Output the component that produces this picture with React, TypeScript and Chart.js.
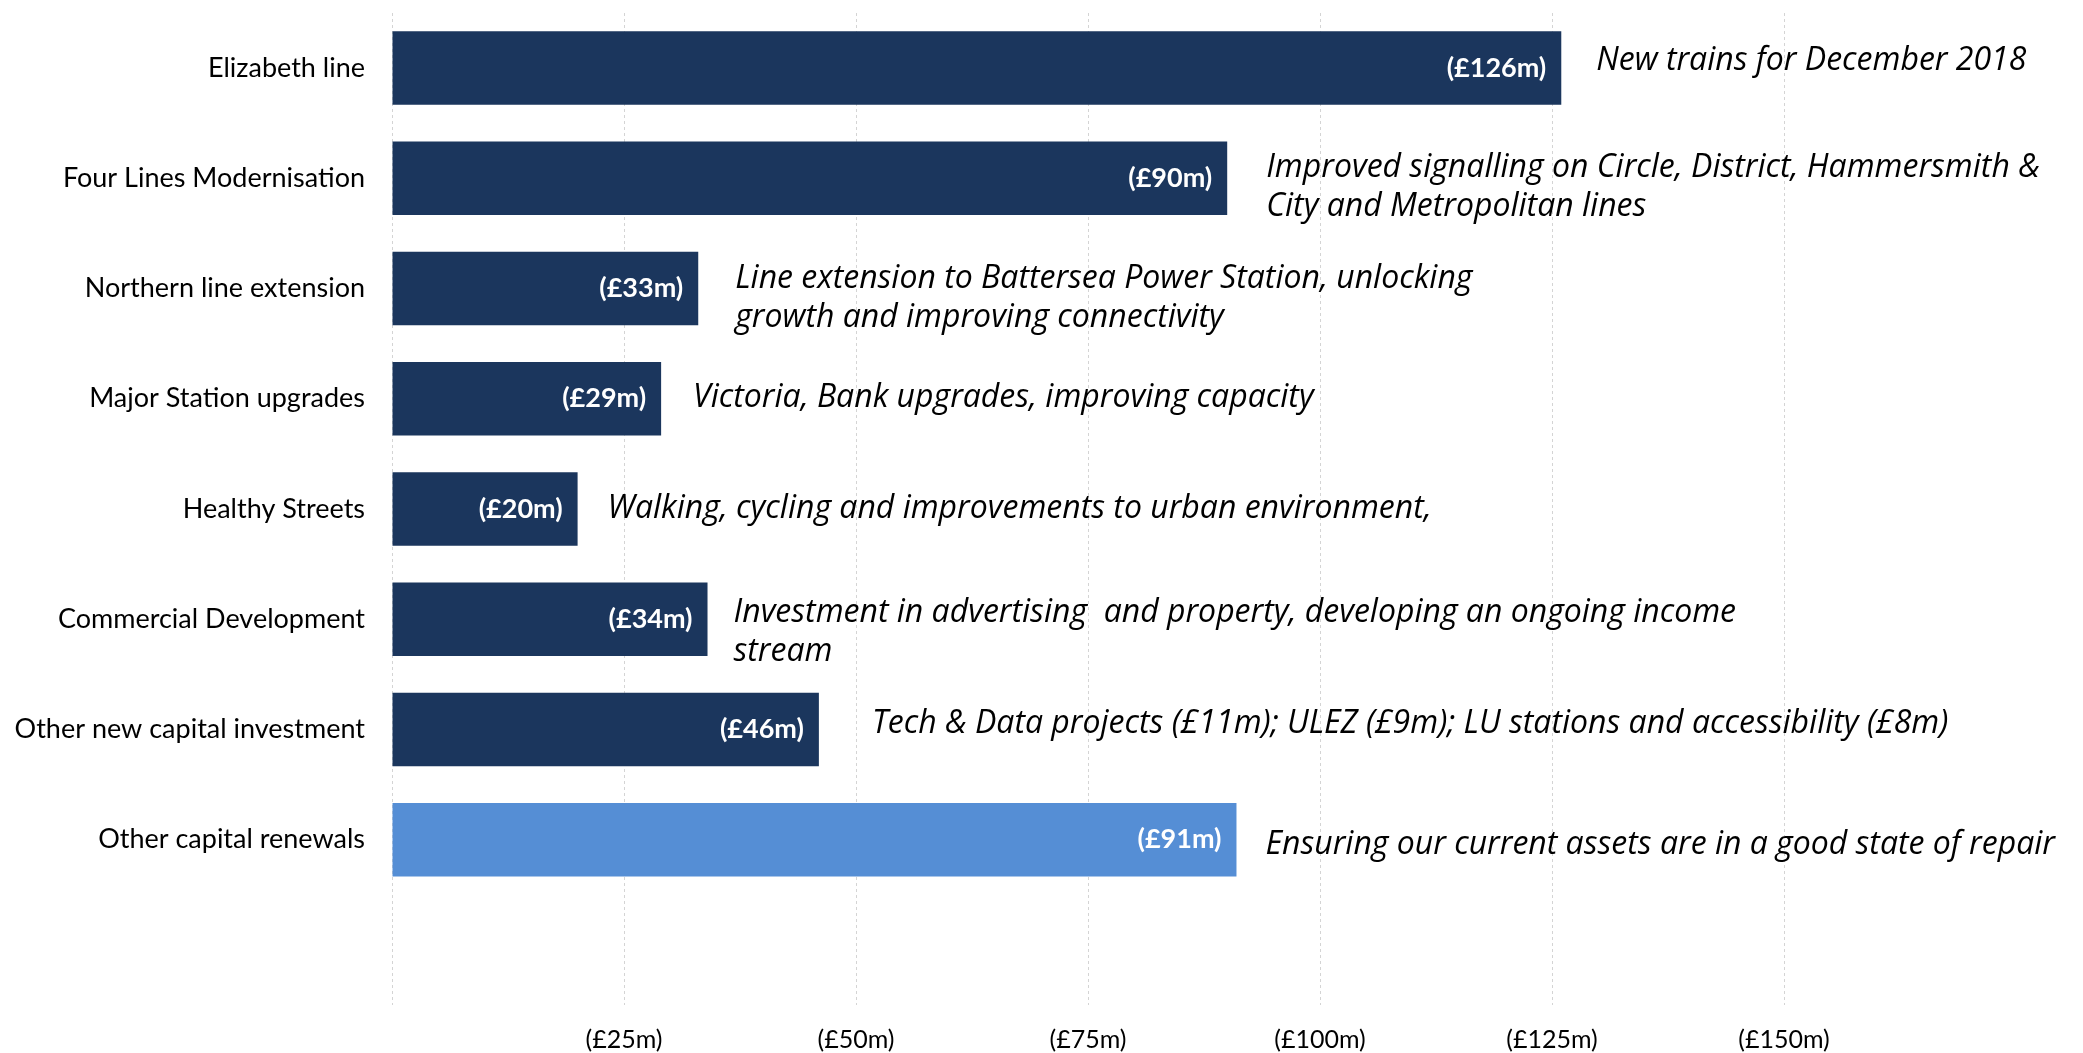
import React, { useEffect, useRef } from "react";
import { Chart, registerables } from "chart.js";

Chart.register(...registerables);

const categories: string[] = [
  "Elizabeth line",
  "Four Lines Modernisation",
  "Northern line extension",
  "Major Station upgrades",
  "Healthy Streets",
  "Commercial Development",
  "Other new capital investment",
  "Other capital renewals",
  "",
];

const spendValues: (number | null)[] = [126, 90, 33, 29, 20, 34, 46, 91, null];

const valueLabels: string[] = [
  "(£126m)",
  "(£90m)",
  "(£33m)",
  "(£29m)",
  "(£20m)",
  "(£34m)",
  "(£46m)",
  "(£91m)",
  "",
];

const descriptions: string[][] = [
  ["New trains for December 2018"],
  ["Improved signalling on Circle, District, Hammersmith &", "City and Metropolitan lines"],
  ["Line extension to Battersea Power Station, unlocking", "growth and improving connectivity"],
  ["Victoria, Bank upgrades, improving capacity"],
  ["Walking, cycling and improvements to urban environment,"],
  ["Investment in advertising  and property, developing an ongoing income", "stream"],
  ["Tech & Data projects (£11m); ULEZ (£9m); LU stations and accessibility (£8m)"],
  ["Ensuring our current assets are in a good state of repair"],
  [],
];

const xTickValues: number[] = [0, 25, 50, 75, 100, 125, 150];

// styling
const barColors: string[] = [
  "#1b365d", "#1b365d", "#1b365d", "#1b365d", "#1b365d", "#1b365d", "#1b365d", "#558ed5", "#1b365d",
];
const descGapX: number[] = [35, 39, 37, 32, 30, 26, 53, 29, 30];
const descDy: number[] = [-7, -10, -10, -1, 0, -6, -6, 5, 0];

const FONT = "Lato, 'Open Sans', sans-serif";
const DESC_FONT = "'Open Sans', Lato, sans-serif";

const labelPlugin = {
  id: "barTexts",
  afterDatasetsDraw(chart: any) {
    const ctx = chart.ctx;
    const meta = chart.getDatasetMeta(0);
    ctx.save();
    meta.data.forEach((el: any, i: number) => {
      const v = spendValues[i];
      if (v === null || v === undefined) return;
      const xEnd = el.x;
      const yc = el.y;
      ctx.font = `bold 27px ${FONT}`;
      ctx.fillStyle = "#ffffff";
      ctx.textAlign = "right";
      ctx.textBaseline = "middle";
      ctx.fillText(valueLabels[i], xEnd - 15, yc);
      ctx.font = `italic 32px ${DESC_FONT}`;
      ctx.fillStyle = "#000000";
      ctx.textAlign = "left";
      const lines = descriptions[i] || [];
      lines.forEach((ln, k) => {
        ctx.fillText(ln, xEnd + descGapX[i], yc + descDy[i] + k * 39);
      });
    });
    ctx.restore();
  },
};

export default function App() {
  const ref = useRef<HTMLCanvasElement>(null);
  useEffect(() => {
    document.body.style.margin = "0";
    const chart = new Chart(ref.current as HTMLCanvasElement, {
      type: "bar",
      data: {
        labels: categories,
        datasets: [
          {
            data: spendValues,
            backgroundColor: barColors,
            borderWidth: 0,
            categoryPercentage: 0.667,
            barPercentage: 1,
          },
        ],
      },
      options: {
        indexAxis: "y",
        responsive: false,
        animation: false,
        layout: { padding: { top: 13, right: 299, bottom: 0, left: 0 } },
        plugins: { legend: { display: false }, tooltip: { enabled: false } },
        scales: {
          x: {
            min: 0,
            max: 150,
            afterBuildTicks: (scale: any) => {
              scale.ticks = xTickValues.map((v) => ({ value: v }));
            },
            afterFit: (scale: any) => {
              scale.height = 48;
              scale.paddingLeft = 0;
              scale.paddingRight = 0;
            },
            grid: {
              color: "#d4d4d4",
              lineWidth: 1,
              drawTicks: false,
            },
            border: { display: false, dash: [3, 3] },
            ticks: {
              padding: 20,
              color: "#000000",
              font: { family: FONT, size: 25 },
              callback: (v: any) => (Number(v) === 0 ? "" : `(£${v}m)`),
            },
          },
          y: {
            afterFit: (scale: any) => {
              scale.width = 392;
              scale.paddingTop = 0;
              scale.paddingBottom = 0;
            },
            grid: { display: false, drawTicks: false },
            border: { display: false },
            ticks: {
              padding: 27,
              color: "#000000",
              font: { family: FONT, size: 27 },
            },
          },
        },
      },
      plugins: [labelPlugin],
    } as any);
    return () => chart.destroy();
  }, []);
  return <canvas ref={ref} width={2083} height={1053} style={{ display: "block" }} />;
}
